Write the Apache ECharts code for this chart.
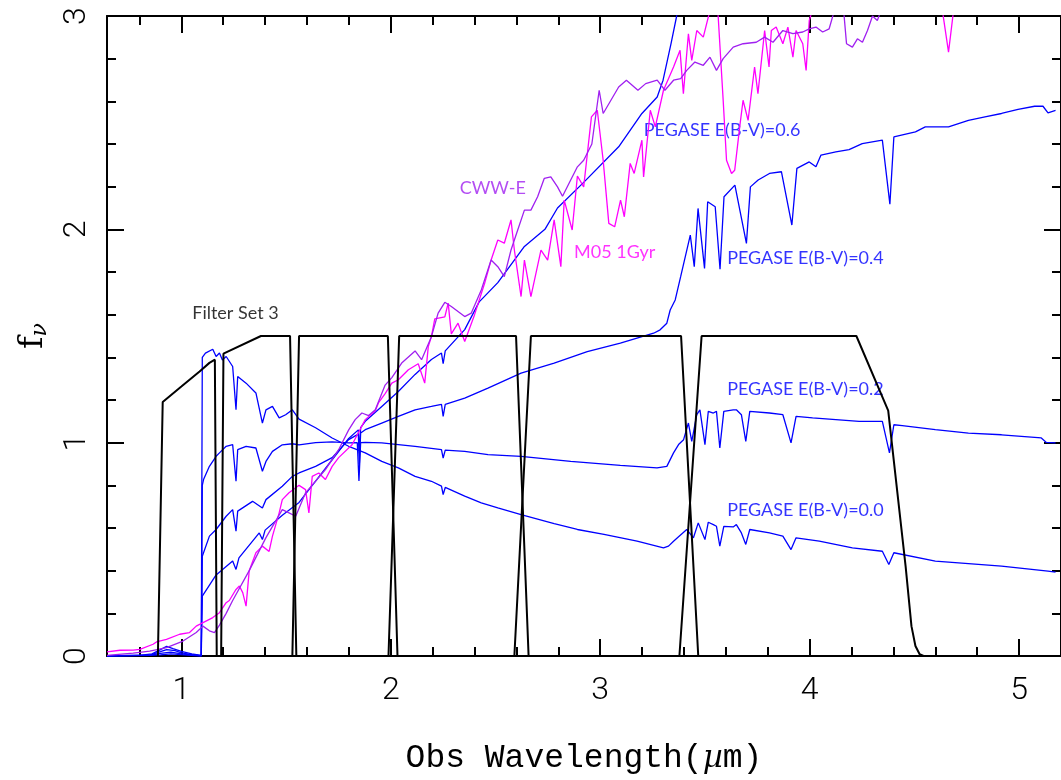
<!DOCTYPE html>
<html>
<head>
<meta charset="utf-8">
<script src="https://cdn.jsdelivr.net/npm/echarts/dist/echarts.min.js"></script>
<style>
  html, body { margin: 0; padding: 0; background: #fff; }
  #chart { width: 1061px; height: 780px; }
</style>
</head>
<body>
<div id="chart"></div>
<script>
// tick values
var xMajor = [1, 2, 3, 4, 5];
var xMinor = [0.8, 1.0, 1.2, 1.4, 1.6, 1.8, 2.0, 2.2, 2.4, 2.6, 2.8, 3.0, 3.2, 3.4, 3.6, 3.8, 4.0, 4.2, 4.4, 4.6, 4.8, 5.0];
var yMajor = [0, 1, 2, 3];
var yMinor = [0.2, 0.4, 0.6, 0.8, 1.2, 1.4, 1.6, 1.8, 2.2, 2.4, 2.6, 2.8];

// PEGASE spectra, [wavelength um, f_nu]
var peg00 = [[0.645,0.002],[0.80,0.003],[0.86,0.01],[0.90,0.03],[0.93,0.045],[0.96,0.035],[1.0,0.022],[1.05,0.01],[1.095,0.003],
  [1.100,1.40],[1.115,1.42],[1.150,1.438],[1.166,1.404],[1.182,1.42],[1.196,1.388],[1.214,1.404],[1.245,1.357],[1.261,1.154],[1.269,1.31],
  [1.309,1.279],[1.356,1.233],[1.387,1.092],[1.404,1.154],[1.435,1.17],[1.467,1.116],[1.498,1.131],[1.530,1.154],[1.562,1.11],[1.641,1.07],
  [1.720,1.022],[1.799,0.983],[1.878,0.952],[1.957,0.912],[2.036,0.882],[2.116,0.842],[2.194,0.819],[2.242,0.796],[2.250,0.757],[2.26,0.79],
  [2.353,0.749],[2.432,0.718],[2.511,0.694],[2.622,0.663],[2.780,0.621],[2.891,0.593],[3.018,0.570],[3.176,0.538],[3.302,0.507],[3.326,0.515],
  [3.350,0.538],[3.374,0.559],[3.413,0.593],[3.445,0.554],[3.468,0.624],[3.500,0.546],[3.516,0.627],[3.540,0.616],[3.555,0.608],[3.571,0.515],
  [3.590,0.608],[3.635,0.605],[3.650,0.616],[3.674,0.577],[3.695,0.523],[3.714,0.593],[3.808,0.577],[3.872,0.562],[3.911,0.499],[3.935,0.554],
  [4.046,0.538],[4.204,0.507],[4.347,0.491],[4.378,0.429],[4.402,0.484],[4.600,0.445],[4.916,0.421],[5.138,0.398],[5.174,0.393]];

var peg02 = [[0.645,0.001],[0.85,0.004],[0.90,0.02],[0.93,0.03],[0.97,0.025],[1.0,0.015],[1.05,0.006],[1.095,0.002],
  [1.100,0.80],[1.106,0.827],[1.134,0.889],[1.166,0.936],[1.182,0.952],[1.214,0.983],[1.245,0.991],[1.261,0.819],[1.269,0.967],[1.309,0.983],
  [1.356,0.975],[1.387,0.866],[1.404,0.912],[1.435,0.959],[1.482,0.990],[1.530,0.995],[1.562,0.990],[1.641,1.0],[1.720,1.004],[1.799,0.999],
  [1.840,1.0],[1.848,0.82],[1.856,1.0],[1.878,1.001],[1.957,0.999],[2.036,0.991],[2.116,0.983],[2.242,0.967],[2.250,0.928],[2.26,0.965],
  [2.353,0.959],[2.464,0.944],[2.622,0.936],[2.859,0.912],[3.096,0.894],[3.271,0.882],[3.318,0.889],[3.350,0.952],[3.374,0.991],[3.398,1.014],
  [3.421,1.092],[3.437,1.006],[3.461,1.131],[3.476,1.154],[3.500,0.991],[3.516,1.147],[3.540,1.139],[3.555,1.147],[3.571,0.975],[3.590,1.147],
  [3.635,1.154],[3.650,1.154],[3.674,1.131],[3.695,1.006],[3.714,1.147],[3.808,1.139],[3.872,1.131],[3.911,0.999],[3.935,1.123],[4.014,1.116],
  [4.125,1.108],[4.236,1.100],[4.347,1.100],[4.381,0.952],[4.402,1.084],[4.442,1.080],[4.600,1.061],[4.758,1.045],[4.916,1.037],[5.106,1.022],
  [5.130,1.001],[5.174,0.999]];

var peg04 = [[0.645,0.0],[0.85,0.003],[0.90,0.012],[0.95,0.018],[1.0,0.01],[1.095,0.001],
  [1.100,0.468],[1.134,0.562],[1.166,0.593],[1.214,0.655],[1.245,0.686],[1.261,0.585],[1.269,0.679],[1.340,0.725],[1.387,0.694],[1.404,0.733],
  [1.482,0.796],[1.530,0.842],[1.562,0.858],[1.641,0.889],[1.720,0.930],[1.799,1.014],[1.845,1.04],[1.850,0.9],[1.856,1.045],[1.878,1.061],
  [1.957,1.092],[2.036,1.123],[2.116,1.154],[2.194,1.170],[2.242,1.18],[2.250,1.123],[2.26,1.18],[2.353,1.209],[2.464,1.256],[2.622,1.326],
  [2.780,1.373],[2.938,1.427],[3.096,1.467],[3.255,1.513],[3.286,1.529],[3.318,1.560],[3.334,1.622],[3.358,1.669],[3.384,1.778],[3.430,1.973],
  [3.449,1.825],[3.467,2.098],[3.498,1.817],[3.513,2.129],[3.549,2.106],[3.572,1.813],[3.591,2.153],[3.643,2.207],[3.698,1.934],[3.717,2.199],
  [3.754,2.231],[3.808,2.262],[3.865,2.270],[3.915,2.020],[3.939,2.286],[3.998,2.316],[4.030,2.293],[4.054,2.348],[4.125,2.363],[4.188,2.374],
  [4.251,2.402],[4.347,2.418],[4.383,2.118],[4.402,2.433],[4.505,2.457],[4.552,2.480],[4.663,2.480],[4.758,2.511],[4.837,2.527],[4.916,2.543],
  [4.995,2.562],[5.074,2.577],[5.114,2.577],[5.138,2.546],[5.174,2.558]];

var peg06 = [[0.645,0.0],[0.9,0.005],[0.95,0.01],[1.0,0.006],[1.095,0.0],
  [1.100,0.281],[1.166,0.38],[1.245,0.445],[1.261,0.406],[1.275,0.46],[1.372,0.577],[1.387,0.546],[1.40,0.59],[1.482,0.66],[1.562,0.72],
  [1.641,0.82],[1.720,0.92],[1.799,1.02],[1.845,1.06],[1.850,0.95],[1.856,1.07],[1.878,1.10],[1.957,1.17],[2.036,1.24],[2.116,1.32],[2.194,1.39],
  [2.242,1.42],[2.250,1.37],[2.26,1.43],[2.353,1.53],[2.422,1.66],[2.511,1.75],[2.638,1.92],[2.736,2.0],[2.796,2.1],[2.921,2.22],
  [3.088,2.387],[3.199,2.543],[3.272,2.62],[3.300,2.699],[3.338,2.871],[3.365,3.0],[3.38,3.1]];

// M05 1 Gyr and CWW-E templates
var m05 = [[0.645,0.019],[0.707,0.027],[0.770,0.028],[0.802,0.031],[0.865,0.055],[0.881,0.066],[0.929,0.078],[0.992,0.102],[1.039,0.110],
  [1.071,0.140],[1.087,0.148],[1.134,0.172],[1.150,0.180],[1.182,0.203],[1.214,0.25],[1.229,0.26],[1.261,0.312],[1.277,0.328],[1.293,0.297],
  [1.309,0.234],[1.324,0.40],[1.356,0.484],[1.387,0.515],[1.419,0.49],[1.435,0.562],[1.467,0.671],[1.482,0.733],[1.514,0.765],[1.562,0.80],
  [1.593,0.78],[1.609,0.671],[1.625,0.842],[1.656,0.858],[1.688,0.827],[1.720,0.889],[1.751,0.930],[1.815,0.99],[1.847,1.05],[1.878,1.108],
  [1.926,1.15],[1.941,1.186],[1.973,1.23],[2.005,1.279],[2.036,1.295],[2.084,1.342],[2.131,1.37],[2.162,1.279],[2.179,1.45],[2.194,1.497],
  [2.210,1.58],[2.258,1.59],[2.274,1.654],[2.289,1.51],[2.321,1.56],[2.353,1.474],[2.400,1.6],[2.448,1.747],[2.479,1.856],[2.511,1.950],
  [2.542,1.935],[2.574,2.044],[2.590,1.903],[2.622,1.685],[2.638,1.856],[2.669,1.685],[2.717,1.903],[2.749,1.856],[2.780,2.044],[2.812,1.825],
  [2.828,2.137],[2.866,1.997],[2.891,2.25],[2.921,2.199],[2.958,2.527],[2.986,2.558],[3.014,2.324],[3.041,2.028],[3.069,2.012],[3.097,2.137],
  [3.115,2.059],[3.143,2.309],[3.162,2.262],[3.199,2.418],[3.207,2.246],[3.239,2.558],[3.263,2.480],[3.302,2.652],[3.350,2.761],[3.381,2.839],
  [3.397,2.636],[3.421,2.917],[3.437,2.792],[3.461,2.932],[3.492,2.901],[3.530,3.05],[3.560,3.05],[3.587,2.605],[3.603,2.324],[3.627,2.262],
  [3.642,2.277],[3.666,2.480],[3.682,2.605],[3.706,2.511],[3.737,2.761],[3.753,2.636],[3.785,2.932],[3.806,2.761],[3.817,2.932],[3.840,2.948],
  [3.872,2.870],[3.896,2.948],[3.920,2.807],[3.935,2.932],[3.967,2.870],[3.983,2.745],[3.998,2.979],[4.02,3.05],[4.63,3.05],[4.663,2.831],
  [4.69,3.05],[5.2,3.05]];

var cww = [[0.645,0.003],[0.770,0.013],[0.849,0.023],[0.929,0.039],[1.008,0.070],[1.071,0.110],[1.103,0.140],[1.134,0.118],[1.158,0.110],
  [1.182,0.145],[1.214,0.20],[1.245,0.26],[1.324,0.40],[1.404,0.555],[1.482,0.686],[1.514,0.671],[1.546,0.655],[1.593,0.765],[1.641,0.82],
  [1.688,0.874],[1.751,0.967],[1.799,1.06],[1.830,1.108],[1.862,1.139],[1.894,1.127],[1.926,1.154],[1.973,1.27],[2.005,1.305],[2.052,1.373],
  [2.116,1.43],[2.147,1.389],[2.194,1.497],[2.226,1.607],[2.258,1.658],[2.289,1.638],[2.353,1.591],[2.384,1.607],[2.432,1.716],[2.479,1.856],
  [2.511,1.825],[2.542,1.778],[2.574,1.903],[2.606,1.997],[2.638,2.090],[2.669,2.090],[2.701,2.153],[2.733,2.239],[2.764,2.246],[2.796,2.199],
  [2.820,2.155],[2.859,2.231],[2.891,2.293],[2.921,2.324],[2.960,2.40],[2.995,2.652],[3.014,2.543],[3.051,2.605],[3.088,2.667],[3.125,2.699],
  [3.180,2.652],[3.217,2.683],[3.272,2.699],[3.309,2.652],[3.350,2.699],[3.384,2.706],[3.413,2.745],[3.452,2.784],[3.492,2.769],[3.524,2.807],
  [3.555,2.745],[3.587,2.800],[3.635,2.854],[3.682,2.870],[3.745,2.877],[3.785,2.901],[3.825,2.877],[3.872,2.932],[3.920,2.917],[3.967,2.925],
  [3.998,2.940],[4.030,2.948],[4.062,2.925],[4.093,2.940],[4.125,3.05],[4.160,3.05],[4.176,2.870],[4.204,2.854],[4.228,2.893],[4.252,2.877],
  [4.276,2.932],[4.300,3.0],[4.323,2.979],[4.35,3.05],[5.2,3.1]];

// Filter Set 3 transmission curves
var filt1 = [[0.888,0],[0.911,1.191],[1.0,1.263],[1.087,1.334],[1.134,1.374],[1.160,1.389],[1.169,0]];
var filt2 = [[1.190,0],[1.201,1.417],[1.380,1.5],[1.519,1.5],[1.549,0]];
var filt3 = [[1.530,0],[1.562,1.5],[1.986,1.5],[2.032,0]];
var filt4 = [[1.989,0],[2.040,1.5],[2.598,1.5],[2.658,0]];
var filt5 = [[2.590,0],[2.669,1.5],[3.386,1.5],[3.468,0]];
var filt6 = [[3.378,0],[3.484,1.5],[4.223,1.5],[4.375,1.150],[4.458,0.421],[4.486,0.140],[4.505,0.047],[4.525,0.008],[4.544,0]];

// annotations
var annotText = ['Filter Set 3', 'CWW-E', 'M05 1Gyr', 'PEGASE E(B-V)=0.6', 'PEGASE E(B-V)=0.4', 'PEGASE E(B-V)=0.2', 'PEGASE E(B-V)=0.0'];
var annotX = [1.052, 2.329, 2.875, 3.208, 3.606, 3.606, 3.606];
var annotY = [1.608, 2.193, 1.895, 2.464, 1.864, 1.253, 0.682];

var BLUE = '#0000ff', PURPLE = '#a020f0', MAGENTA = '#ff00ff', BLACK = '#000000';
var annotColor = [BLACK, PURPLE, MAGENTA, BLUE, BLUE, BLUE, BLUE];

function tickAxis(pos, isX, vals, len, showLine) {
  return {
    type: 'value',
    position: pos,
    min: isX ? 0.645 : 0,
    max: isX ? 5.2 : 3,
    axisLine: { show: showLine, onZero: false, lineStyle: { color: BLACK, width: 2 } },
    axisTick: { show: true, inside: true, length: len, customValues: vals, lineStyle: { color: BLACK, width: 2 } },
    axisLabel: { show: false },
    splitLine: { show: false }
  };
}

function lineSeries(name, data, color, width) {
  return {
    name: name,
    type: 'line',
    data: data,
    showSymbol: false,
    symbol: 'none',
    clip: true,
    animation: false,
    lineStyle: { color: color, width: width }
  };
}

var xBottom = tickAxis('bottom', true, xMajor, 17, true);
xBottom.axisLabel = {
  show: true, customValues: xMajor, margin: 19, color: BLACK,
  fontSize: 32, fontFamily: 'Roboto', fontWeight: 300
};
xBottom.name = 'Obs Wavelength({m|\u00b5}m)';
xBottom.nameLocation = 'middle';
xBottom.nameGap = 86;
xBottom.nameTextStyle = {
  fontFamily: 'Liberation Mono', fontSize: 33, color: BLACK, verticalAlign: 'top',
  rich: { m: { fontFamily: 'DejaVu Serif', fontStyle: 'italic', fontSize: 31, color: BLACK } }
};

var yLeft = tickAxis('left', false, yMajor, 17, true);
yLeft.axisLabel = {
  show: true, customValues: yMajor, margin: 14, rotate: 90, color: BLACK,
  fontSize: 32, fontFamily: 'Roboto', fontWeight: 300
};
yLeft.name = '{f|f}{s|\u03bd}';
yLeft.nameLocation = 'middle';
yLeft.nameGap = 56;
yLeft.nameRotate = 90;
yLeft.nameTextStyle = {
  rich: {
    f: { fontFamily: 'DejaVu Serif', fontSize: 34, color: BLACK },
    s: { fontFamily: 'DejaVu Serif', fontStyle: 'italic', fontSize: 22, color: BLACK, padding: [14, 0, 0, 0] }
  }
};

var annotData = [];
for (var i = 0; i < annotText.length; ++i) {
  annotData.push({
    value: [annotX[i], annotY[i]],
    name: annotText[i],
    label: { color: annotColor[i] }
  });
}

var series = [
  lineSeries('PEGASE E(B-V)=0.0', peg00, BLUE, 1.3),
  lineSeries('PEGASE E(B-V)=0.2', peg02, BLUE, 1.3),
  lineSeries('PEGASE E(B-V)=0.4', peg04, BLUE, 1.3),
  lineSeries('PEGASE E(B-V)=0.6', peg06, BLUE, 1.3),
  lineSeries('M05 1Gyr', m05, MAGENTA, 1.3),
  lineSeries('CWW-E', cww, PURPLE, 1.3)
];
var filters = [filt1, filt2, filt3, filt4, filt5, filt6];
for (var k = 0; k < filters.length; ++k) {
  series.push(lineSeries('filter' + (k + 1), filters[k], BLACK, 2));
}
series.push({
  type: 'scatter',
  data: annotData,
  symbolSize: 0,
  animation: false,
  silent: true,
  label: {
    show: true,
    position: 'right',
    distance: 0,
    formatter: '{b}',
    fontFamily: 'Lato',
    fontSize: 18
  }
});

var option = {
  backgroundColor: '#ffffff',
  animation: false,
  grid: { left: 107, right: -5, top: 16, bottom: 123, containLabel: false },
  xAxis: [
    xBottom,
    tickAxis('bottom', true, xMinor, 9, false),
    tickAxis('top', true, xMajor, 17, true),
    tickAxis('top', true, xMinor, 9, false)
  ],
  yAxis: [
    yLeft,
    tickAxis('left', false, yMinor, 9, false),
    tickAxis('right', false, yMajor, 17, true),
    tickAxis('right', false, yMinor, 9, false)
  ],
  series: series
};

echarts.init(document.getElementById('chart')).setOption(option);
</script>
</body>
</html>
